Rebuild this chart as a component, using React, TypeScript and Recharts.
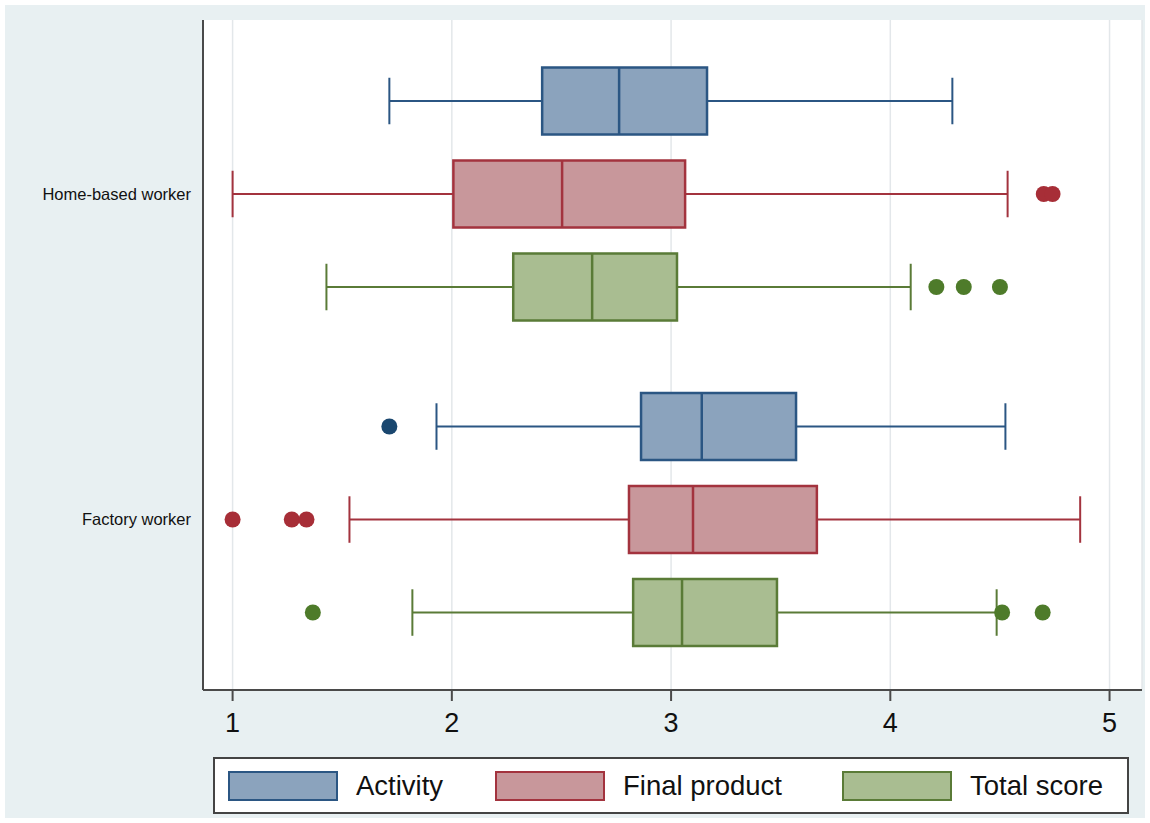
import React from 'react';
import {
  ComposedChart,
  Scatter,
  XAxis,
  YAxis,
  CartesianGrid,
  ReferenceArea,
  ReferenceLine
} from 'recharts';

// groups on the y axis, series drawn inside each group
const groups = ['Home-based worker', 'Factory worker'];
const seriesNames = ['Activity', 'Final product', 'Total score'];
const xTicks = [1, 2, 3, 4, 5];

// [lower whisker, q1, median, q3, upper whisker] per group
const activityStats = [
  [1.715, 2.412, 2.763, 3.164, 4.283],
  [1.93, 2.863, 3.14, 3.57, 4.525]
];
const finalStats = [
  [1.0, 2.007, 2.503, 3.064, 4.535],
  [1.533, 2.808, 3.1, 3.665, 4.866]
];
const totalStats = [
  [1.428, 2.28, 2.64, 3.027, 4.093],
  [1.82, 2.827, 3.05, 3.483, 4.485]
];

// outside values per group
const activityOutliers = [[], [1.715]];
const finalOutliers = [[4.7, 4.74], [1.0, 1.27, 1.337]];
const totalOutliers = [[4.21, 4.335, 4.5], [1.366, 4.51, 4.695]];

const styles = [
  { fill: '#8ba3bd', line: '#2b5683', dot: '#1a476f' },
  { fill: '#c8979b', line: '#a3333e', dot: '#a72e37' },
  { fill: '#a9bd91', line: '#5a7b37', dot: '#4e7b2a' }
];

const allStats = [activityStats, finalStats, totalStats];
const allOutliers = [activityOutliers, finalOutliers, totalOutliers];

const FONT = '"Liberation Sans", Arial, Helvetica, sans-serif';
const GROUP_STEP = 3.5;
const BOX_HALF = 0.36;
const CAP_HALF = 0.25;

const rowOf = (g: number, s: number) => g * GROUP_STEP + s;

export default function App() {
  const boxes: React.ReactNode[] = [];
  const lines: React.ReactNode[] = [];

  allStats.forEach((statsBySeries, s) => {
    const st = styles[s];
    statsBySeries.forEach((stats, g) => {
      const y = rowOf(g, s);
      const [lo, q1, md, q3, hi] = stats;
      const k = `${s}-${g}`;
      const lineProps = { stroke: st.line, strokeWidth: 2, ifOverflow: 'visible' as const };
      lines.push(
        <ReferenceLine key={`wl${k}`} segment={[{ x: lo, y }, { x: q1, y }]} {...lineProps} />,
        <ReferenceLine key={`wh${k}`} segment={[{ x: q3, y }, { x: hi, y }]} {...lineProps} />,
        <ReferenceLine key={`cl${k}`} segment={[{ x: lo, y: y - CAP_HALF }, { x: lo, y: y + CAP_HALF }]} {...lineProps} />,
        <ReferenceLine key={`ch${k}`} segment={[{ x: hi, y: y - CAP_HALF }, { x: hi, y: y + CAP_HALF }]} {...lineProps} />
      );
      boxes.push(
        <ReferenceArea
          key={`b${k}`}
          x1={q1}
          x2={q3}
          y1={y - BOX_HALF}
          y2={y + BOX_HALF}
          fill={st.fill}
          fillOpacity={1}
          stroke={st.line}
          strokeWidth={2.5}
          ifOverflow="visible"
        />
      );
      lines.push(
        <ReferenceLine
          key={`m${k}`}
          segment={[{ x: md, y: y - BOX_HALF }, { x: md, y: y + BOX_HALF }]}
          stroke={st.line}
          strokeWidth={2.5}
          ifOverflow="visible"
        />
      );
    });
  });

  const outlierData = allOutliers.map((byGroup, s) =>
    byGroup.flatMap((vals, g) => vals.map(v => ({ x: v, y: rowOf(g, s) })))
  );

  const legendLeft = [13, 280, 627];

  return (
    <div style={{ position: 'absolute', left: 0, top: 0, width: 1150, height: 823, background: '#fff', fontFamily: FONT }}>
      <div style={{ position: 'absolute', left: 5, top: 5, width: 1140, height: 813, background: '#e8f0f2' }} />
      <div style={{ position: 'absolute', left: 0, top: 0 }}>
        <ComposedChart width={1150} height={823} margin={{ top: 20, right: 8, left: 0, bottom: 93 }}>
          <CartesianGrid horizontal={false} stroke="#e3e7ea" strokeWidth={1.5} fill="#ffffff" />
          <XAxis
            type="number"
            dataKey="x"
            domain={[0.865, 5.148]}
            ticks={xTicks}
            allowDataOverflow
            height={40}
            axisLine={{ stroke: '#4a4a4a', strokeWidth: 2 }}
            tickLine={{ stroke: '#4a4a4a', strokeWidth: 2 }}
            tickSize={11}
            tickMargin={12}
            tick={{ fill: '#111', fontSize: 27, fontFamily: FONT }}
          />
          <YAxis
            type="number"
            dataKey="y"
            reversed
            domain={[-0.871, 6.333]}
            ticks={[1, 1 + GROUP_STEP]}
            tickFormatter={(v: number) => groups[Math.round((v - 1) / GROUP_STEP)]}
            allowDataOverflow
            width={203}
            axisLine={{ stroke: '#4a4a4a', strokeWidth: 2 }}
            tickLine={false}
            tickMargin={6}
            tick={{ fill: '#111', fontSize: 16.5, fontFamily: FONT }}
          />
          {boxes}
          {lines}
          {outlierData.map((d, s) => (
            <Scatter
              key={seriesNames[s]}
              name={seriesNames[s]}
              data={d}
              isAnimationActive={false}
              shape={(p: any) => <circle cx={p.cx} cy={p.cy} r={8} fill={styles[s].dot} />}
            />
          ))}
        </ComposedChart>
      </div>
      <div
        style={{
          position: 'absolute',
          left: 213,
          top: 757,
          width: 912,
          height: 53,
          background: '#fff',
          border: '2px solid #444'
        }}
      >
        {seriesNames.map((name, i) => (
          <div
            key={name}
            style={{ position: 'absolute', left: legendLeft[i], top: 12, display: 'flex', alignItems: 'center' }}
          >
            <div
              style={{
                width: 106,
                height: 26,
                background: styles[i].fill,
                border: `2px solid ${styles[i].line}`
              }}
            />
            <span style={{ marginLeft: 18, fontSize: 27.5, color: '#111', lineHeight: '30px' }}>{name}</span>
          </div>
        ))}
      </div>
    </div>
  );
}
